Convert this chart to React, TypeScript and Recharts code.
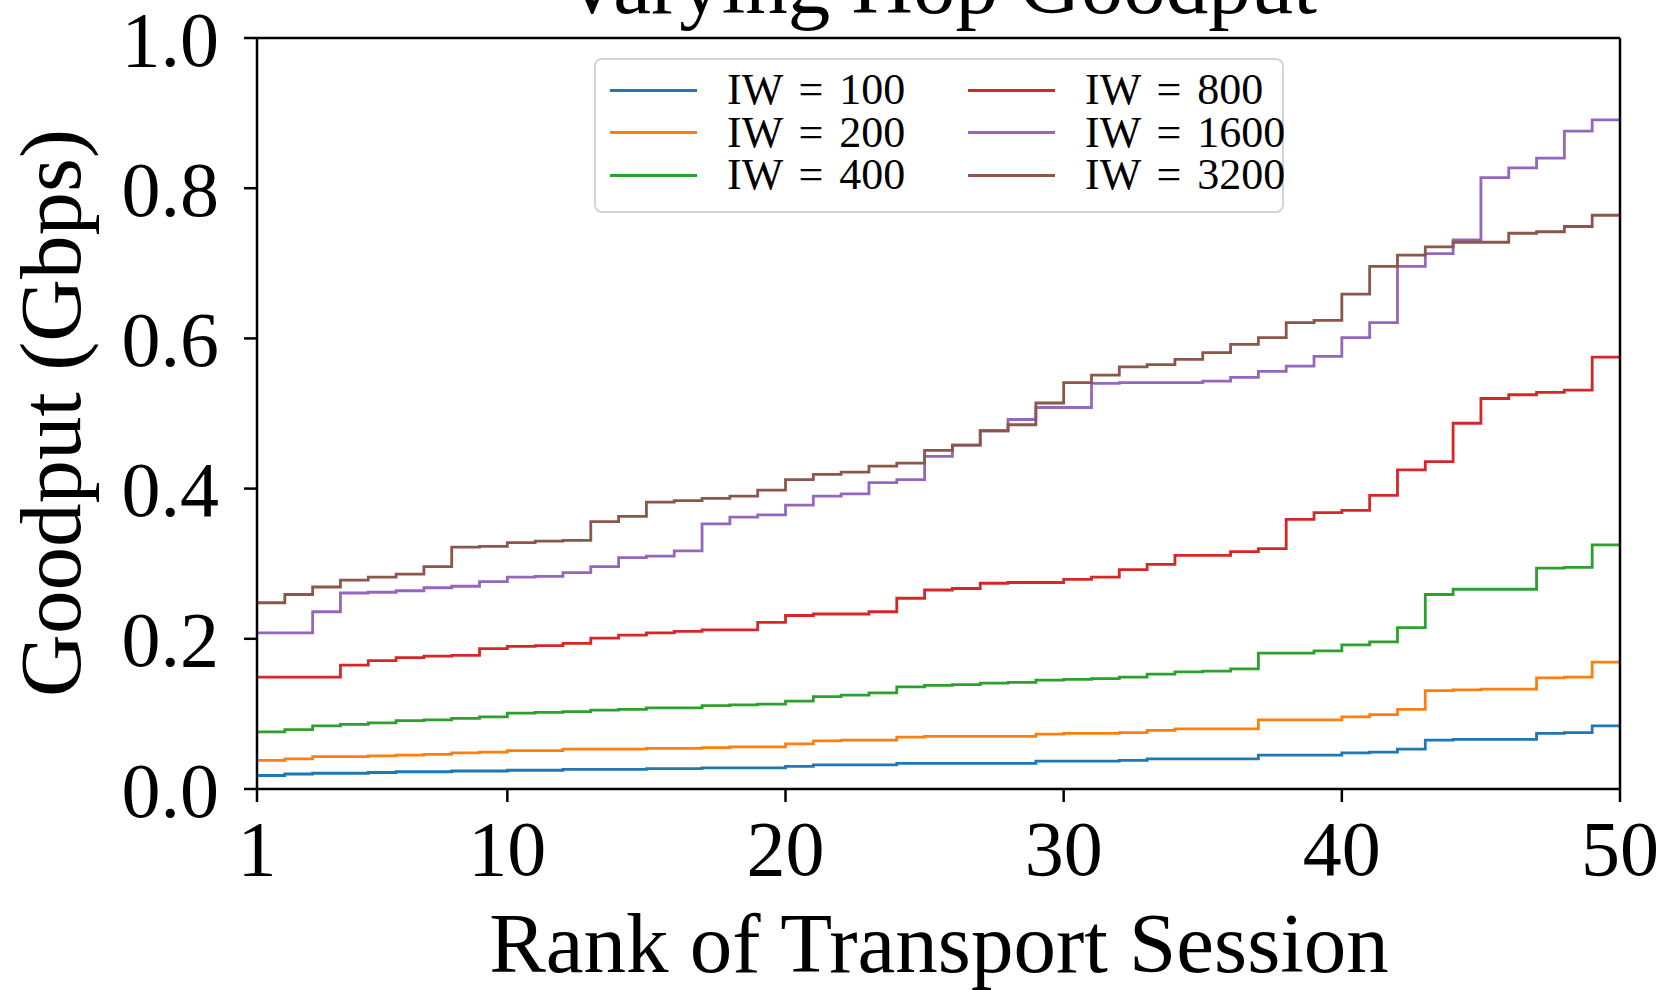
import React from 'react';
import { LineChart, Line, XAxis, YAxis, ReferenceLine } from 'recharts';

// goodput (Gbps) per transport session, sorted by rank 1..50
const iw100 = [
  0.018, 0.020, 0.021, 0.021, 0.022, 0.023, 0.023, 0.024, 0.024, 0.025,
  0.025, 0.026, 0.026, 0.026, 0.027, 0.027, 0.028, 0.028, 0.028, 0.030,
  0.032, 0.032, 0.032, 0.034, 0.034, 0.034, 0.034, 0.034, 0.037, 0.037,
  0.037, 0.038, 0.040, 0.040, 0.040, 0.040, 0.045, 0.045, 0.045, 0.048,
  0.049, 0.053, 0.065, 0.066, 0.066, 0.066, 0.074, 0.075, 0.084, 0.084,
];
const iw200 = [
  0.038, 0.040, 0.043, 0.043, 0.044, 0.045, 0.046, 0.048, 0.049, 0.051,
  0.051, 0.053, 0.053, 0.053, 0.054, 0.054, 0.055, 0.056, 0.056, 0.060,
  0.064, 0.065, 0.065, 0.069, 0.070, 0.070, 0.070, 0.070, 0.073, 0.074,
  0.074, 0.075, 0.078, 0.080, 0.080, 0.080, 0.092, 0.092, 0.092, 0.096,
  0.099, 0.106, 0.131, 0.132, 0.133, 0.133, 0.148, 0.149, 0.169, 0.169,
];
const iw400 = [
  0.076, 0.079, 0.084, 0.086, 0.088, 0.091, 0.092, 0.094, 0.096, 0.101,
  0.102, 0.103, 0.105, 0.106, 0.108, 0.108, 0.111, 0.112, 0.113, 0.117,
  0.123, 0.125, 0.128, 0.136, 0.138, 0.139, 0.141, 0.142, 0.145, 0.146,
  0.147, 0.149, 0.153, 0.156, 0.157, 0.160, 0.181, 0.181, 0.184, 0.192,
  0.196, 0.215, 0.259, 0.266, 0.266, 0.266, 0.294, 0.295, 0.325, 0.325,
];
const iw800 = [
  0.149, 0.149, 0.149, 0.165, 0.171, 0.175, 0.177, 0.178, 0.187, 0.190,
  0.191, 0.194, 0.201, 0.205, 0.208, 0.210, 0.212, 0.212, 0.222, 0.231,
  0.233, 0.233, 0.236, 0.254, 0.265, 0.267, 0.274, 0.275, 0.275, 0.279,
  0.282, 0.292, 0.299, 0.311, 0.311, 0.316, 0.320, 0.359, 0.368, 0.371,
  0.391, 0.425, 0.436, 0.487, 0.520, 0.525, 0.528, 0.531, 0.575, 0.575,
];
const iw1600 = [
  0.208, 0.208, 0.236, 0.261, 0.262, 0.264, 0.268, 0.270, 0.276, 0.282,
  0.283, 0.288, 0.296, 0.308, 0.310, 0.317, 0.353, 0.362, 0.365, 0.378,
  0.390, 0.393, 0.408, 0.412, 0.443, 0.458, 0.477, 0.492, 0.508, 0.508,
  0.540, 0.541, 0.541, 0.541, 0.543, 0.548, 0.556, 0.563, 0.576, 0.601,
  0.621, 0.696, 0.713, 0.731, 0.814, 0.827, 0.840, 0.876, 0.891, 0.891,
];
const iw3200 = [
  0.248, 0.259, 0.269, 0.278, 0.282, 0.286, 0.296, 0.322, 0.323, 0.328,
  0.330, 0.331, 0.356, 0.363, 0.382, 0.384, 0.387, 0.390, 0.398, 0.412,
  0.419, 0.422, 0.430, 0.434, 0.451, 0.458, 0.477, 0.485, 0.514, 0.541,
  0.551, 0.562, 0.565, 0.572, 0.581, 0.592, 0.601, 0.621, 0.624, 0.659,
  0.696, 0.711, 0.722, 0.728, 0.728, 0.740, 0.742, 0.749, 0.764, 0.764,
];

const seriesKeys = ['iw100', 'iw200', 'iw400', 'iw800', 'iw1600', 'iw3200'];
const seriesLabels = ['IW = 100', 'IW = 200', 'IW = 400', 'IW = 800', 'IW = 1600', 'IW = 3200'];
const seriesValues = [iw100, iw200, iw400, iw800, iw1600, iw3200];
const colors = ['#1f77b4', '#ff7f0e', '#2ca02c', '#d62728', '#9467bd', '#8c564b'];

const xTicks = [1, 10, 20, 30, 40, 50];
const yTicks = [0, 0.2, 0.4, 0.6, 0.8, 1.0];

const data = iw100.map((_, i) => {
  const row: any = { rank: i + 1 };
  seriesKeys.forEach((k, s) => { row[k] = seriesValues[s][i]; });
  return row;
});

const FONT = '"Liberation Serif", "DejaVu Serif", serif';
const axisStyle = { stroke: '#000', strokeWidth: 2.5 };

const LegendBox = () => (
  <div style={{
    position: 'absolute', left: 594, top: 58, width: 686, height: 151,
    border: '2px solid #d4d4d4', borderRadius: 8, background: 'rgba(255,255,255,0.8)',
    fontFamily: FONT, fontSize: 44, color: '#000',
  }}>
    {seriesLabels.map((label, i) => {
      const col = Math.floor(i / 3);
      const row = i % 3;
      const cy = 30 + row * 42.5;
      return (
        <React.Fragment key={label}>
          <div style={{
            position: 'absolute', left: col === 0 ? 14 : 372, top: cy - 1.5,
            width: 87, height: 3, background: colors[i],
          }} />
          <div style={{
            position: 'absolute', left: col === 0 ? 131 : 489, top: cy - 20,
            height: 40, lineHeight: '40px', whiteSpace: 'nowrap', wordSpacing: 5,
          }}>{label}</div>
        </React.Fragment>
      );
    })}
  </div>
);

export default function App() {
  return (
    <div style={{ position: 'absolute', left: 0, top: 0, width: 1660, height: 990, background: '#fff', overflow: 'hidden' }}>
      <LineChart width={1660} height={990} data={data} margin={{ top: 38, right: 40, left: 57, bottom: 81 }}>
        <XAxis
          dataKey="rank"
          type="number"
          domain={[1, 50]}
          ticks={xTicks}
          interval={0}
          height={120}
          tickSize={13}
          tickMargin={18}
          axisLine={axisStyle}
          tickLine={axisStyle}
          tick={{ fill: '#000', fontSize: 78, fontFamily: FONT }}
        />
        <YAxis
          type="number"
          domain={[0, 1]}
          ticks={yTicks}
          interval={0}
          width={200}
          tickSize={13}
          tickMargin={25}
          axisLine={axisStyle}
          tickLine={axisStyle}
          tickFormatter={(v: number) => v.toFixed(1)}
          tick={{ fill: '#000', fontSize: 78, fontFamily: FONT }}
        />
        {seriesKeys.map((k, i) => (
          <Line
            key={k}
            dataKey={k}
            name={seriesLabels[i]}
            type="stepAfter"
            stroke={colors[i]}
            strokeWidth={2.8}
            dot={false}
            isAnimationActive={false}
          />
        ))}
        <ReferenceLine y={1} stroke="#000" strokeWidth={2.5} />
        <ReferenceLine x={50} stroke="#000" strokeWidth={2.5} />
      </LineChart>

      <svg width={1660} height={990} style={{ position: 'absolute', left: 0, top: 0, pointerEvents: 'none' }}>
        <text x={939} y={13} textAnchor="middle" fontFamily={FONT} fontSize={85} fill="#000">Varying Hop Goodput</text>
        <text x={939} y={972} textAnchor="middle" fontFamily={FONT} fontSize={85} fill="#000">Rank of Transport Session</text>
        <text x={80} y={413} textAnchor="middle" fontFamily={FONT} fontSize={87} fill="#000"
          transform="rotate(-90 80 413)">Goodput (Gbps)</text>
      </svg>

      <LegendBox />
    </div>
  );
}
